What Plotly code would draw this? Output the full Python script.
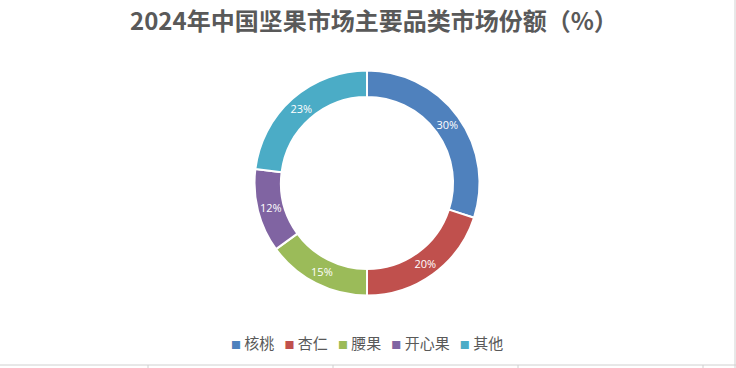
import plotly.graph_objects as go

categories = ["核桃", "杏仁", "腰果", "开心果", "其他"]
shares = [30, 20, 15, 12, 23]
colors = ["#4F81BD", "#C0504D", "#9BBB59", "#8064A2", "#4BACC6"]
title_text = "2024年中国坚果市场主要品类市场份额（%）"

W, H = 736, 368
cx, cy, r = 367, 183, 112.5

fig = go.Figure(go.Pie(
    labels=categories,
    values=shares,
    marker=dict(colors=colors, line=dict(color="white", width=2)),
    hole=0.765,
    sort=False,
    direction="clockwise",
    rotation=0,
    texttemplate="%{value}%",
    textposition="inside",
    insidetextorientation="horizontal",
    textfont=dict(color="white", size=11, family="Open Sans, Noto Sans CJK SC"),
    domain=dict(x=[(cx - r) / W, (cx + r) / W], y=[1 - (cy + r) / H, 1 - (cy - r) / H]),
    hoverinfo="label+percent",
    showlegend=False,
))

shapes = [
    dict(type="line", xref="paper", yref="paper", x0=0, x1=1, y0=1 - 365 / H, y1=1 - 365 / H,
         line=dict(color="#D0D0D0", width=1)),
    dict(type="line", xref="paper", yref="paper", x0=735 / W, x1=735 / W, y0=0, y1=1,
         line=dict(color="#D0D0D0", width=1)),
]
for xt in [148, 333, 518, 703]:
    shapes.append(dict(type="line", xref="paper", yref="paper", x0=xt / W, x1=xt / W,
                       y0=0, y1=1 - 365 / H, line=dict(color="#D0D0D0", width=1)))

legend_parts = []
for name, col in zip(categories, colors):
    legend_parts.append(
        f'<span style="color:{col};font-size:10px">■</span> {name}'
    )
legend_text = "&nbsp;&nbsp;&nbsp;".join(legend_parts)

fig.update_layout(
    width=W, height=H,
    margin=dict(l=0, r=0, t=0, b=0),
    paper_bgcolor="white",
    plot_bgcolor="white",
    title=dict(text="<b>" + title_text + "</b>", x=0.508, xanchor="center", y=1 - 22 / H, yanchor="middle",
               font=dict(family="Noto Sans CJK SC", size=24, color="#595959")),
    annotations=[dict(text=legend_text, xref="paper", yref="paper", x=367 / W, y=1 - 342 / H,
                      xanchor="center", yanchor="middle", showarrow=False,
                      font=dict(family="Noto Sans CJK SC", size=15, color="#595959"))],
    shapes=shapes,
)

fig.write_html("out.html", config={"displayModeBar": False},
               post_script="document.body.style.margin='0';document.body.style.overflow='hidden';")
